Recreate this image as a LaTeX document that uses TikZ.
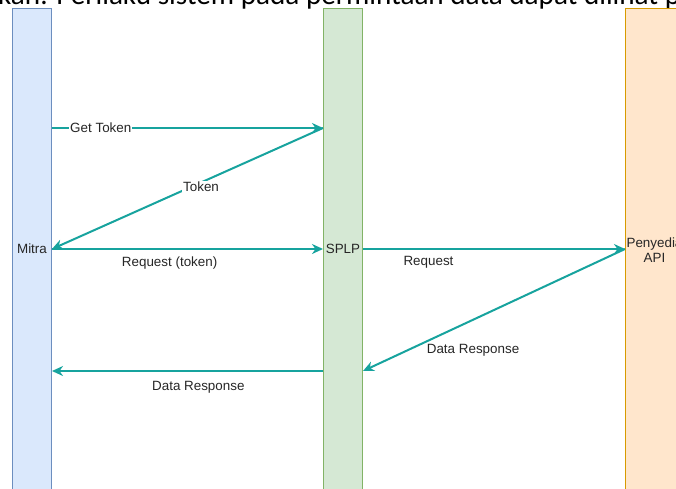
\documentclass[tikz,border=0pt]{standalone}
\usepackage{fontspec}
\setmainfont{Liberation Sans}
\newfontfamily\docfont{Carlito}
\usetikzlibrary{arrows.meta,calc}
\definecolor{msgcol}{HTML}{17A39E}
\definecolor{mitrafill}{HTML}{DAE8FC}
\definecolor{mitradraw}{HTML}{6C8EBF}
\definecolor{splpfill}{HTML}{D5E8D4}
\definecolor{splpdraw}{HTML}{82B366}
\definecolor{apifill}{HTML}{FFE6CC}
\definecolor{apidraw}{HTML}{D79B00}
\tikzset{
  lifeline/.style={rectangle, anchor=north west, inner sep=0, minimum height=500pt, line width=1pt},
  lbl/.style={font=\fontsize{13.4}{15}\selectfont, text=black!85, inner sep=1pt, align=center},
  elbl/.style={font=\fontsize{13.4}{15}\selectfont, text=black!85, inner sep=1pt},
  msg/.style={draw=msgcol, line width=2pt, -{Stealth[length=11pt,width=10pt,inset=3.5pt]}},
}
\begin{document}
\begin{tikzpicture}[x=1pt,y=-1pt]
\useasboundingbox (0,0) rectangle (676,488);
\node[anchor=base west, inner sep=0] (caption) at (-2,4.5) {\resizebox{682pt}{!}{\docfont kan. Perilaku sistem pada permintaan data dapat dilihat p}};

\node[lifeline, fill=mitrafill, draw=mitradraw, minimum width=39pt] (mitra) at (12,8) {};
\node[lifeline, fill=splpfill, draw=splpdraw, minimum width=39pt] (splp) at (323,8) {};
\node[lifeline, fill=apifill, draw=apidraw, minimum width=58pt] (api) at (625,8) {};

\node[lbl] (mitraL) at (mitra.north |- 0,249) {Mitra};
\node[lbl] (splpL) at (splp.north |- 0,249) {SPLP};
\node[lbl, font=\fontsize{13.4}{14.5}\selectfont] (apiL) at (api.north |- 0,250) {Penyedia\\API};

\coordinate (m1) at (mitra.east |- 0,128);
\coordinate (s1) at (splp.west |- 0,128);
\coordinate (m2) at (mitra.east |- 0,249);
\coordinate (s2) at (splp.west |- 0,249);
\coordinate (s3) at (splp.east |- 0,249);
\coordinate (p1) at (api.west |- 0,249);
\coordinate (s4) at (splp.east |- 0,371);
\coordinate (s5) at (splp.west |- 0,371);
\coordinate (m3) at (mitra.east |- 0,371);

\draw[msg] (m1) -- node[elbl, fill=white, pos=0.18] {Get Token} (s1);
\draw[msg] (s1) -- node[elbl, fill=white, pos=0.45, yshift=-4pt] {Token} (m2);
\draw[msg] (m2) -- node[elbl, pos=0.434, yshift=-14pt] {Request (token)} (s2);
\draw[msg] (s3) -- node[elbl, pos=0.25, yshift=-13pt] {Request} (p1);
\draw[msg] (p1) -- node[elbl, pos=0.58, yshift=-31pt] {Data Response} (s4);
\draw[msg] (s5) -- node[elbl, pos=0.46, yshift=-16pt] {Data Response} (m3);
\end{tikzpicture}
\end{document}
